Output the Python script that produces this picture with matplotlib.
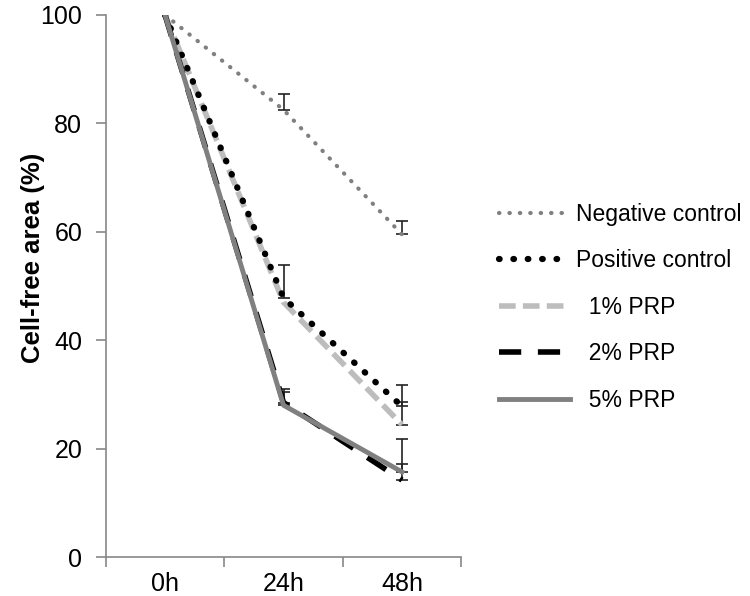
import matplotlib
matplotlib.use("Agg")
import matplotlib.pyplot as plt

# ---- data -----------------------------------------------------------------
time_labels = ["0h", "24h", "48h"]

negative_control = [100, 82.5, 59.5]
negative_err = [0, 3.0, 2.5]

positive_control = [100, 47.8, 27.8]
positive_err = [0, 6.0, 4.0]

prp_1 = [100, 47.0, 24.4]
prp_1_err = [0, 0, 4.2]

prp_2 = [100, 28.5, 14.2]
prp_2_err = [0, 2.0, 3.0]

prp_5 = [100, 28.0, 15.7]
prp_5_err = [0, 3.0, 6.0]

series_names = ["Negative control", "Positive control",
                "  1% PRP", "  2% PRP", "  5% PRP"]

plt.rcParams["font.family"] = ["Liberation Sans", "DejaVu Sans"]

fig = plt.figure(figsize=(7.5, 5.96), dpi=100)
ax = fig.add_axes([0.141, 0.0654, 0.474, 0.9096])

x = list(range(len(time_labels)))

# error bars (upper side only)
err_sets = [(negative_control, negative_err), (positive_control, positive_err),
            (prp_1, prp_1_err), (prp_2, prp_2_err), (prp_5, prp_5_err)]
for vals, errs in err_sets:
    for xi, v, e in zip(x, vals, errs):
        if e > 0:
            ax.errorbar([xi], [v], yerr=[[0], [e]], fmt="none", ecolor="#222222",
                        elinewidth=1.2, capsize=4.5, capthick=1.2, zorder=2)

h_neg, = ax.plot(x, negative_control, color="#808080", linewidth=3,
                 linestyle=(0, (0.1, 2.4)), dash_capstyle="round", zorder=3)
h_1, = ax.plot(x, prp_1, color="#bdbdbd", linewidth=4,
               linestyle=(0, (3, 1.3)), zorder=3)
h_pos, = ax.plot(x, positive_control, color="black", linewidth=4.5,
                 linestyle=(0, (0.1, 2.2)), dash_capstyle="round", zorder=4)
h_2, = ax.plot(x, prp_2, color="black", linewidth=4,
               linestyle=(0, (4, 3)), zorder=3)
h_5, = ax.plot(x, prp_5, color="#808080", linewidth=3.5, zorder=4)

ax.set_xlim(-0.5, 2.5)
ax.set_ylim(0, 100)
ax.set_yticks([0, 20, 40, 60, 80, 100])
ax.set_xticks(x)
ax.set_xticklabels(time_labels)
ax.set_xticks([-0.5, 0.5, 1.5, 2.5], minor=True)
ax.tick_params(axis="x", which="major", length=0, labelsize=18, pad=11)
ax.tick_params(axis="x", which="minor", length=7, direction="out",
               color="#888888", width=1.2)
ax.tick_params(axis="y", length=7, direction="out", color="#888888",
               width=1.2, labelsize=18, pad=10)

for side in ["top", "right"]:
    ax.spines[side].set_visible(False)
for side in ["left", "bottom"]:
    ax.spines[side].set_color("#888888")
    ax.spines[side].set_linewidth(1.2)

ax.set_ylabel("Cell-free area (%)", fontsize=18.5, fontweight="bold")
ax.yaxis.set_label_coords(-0.172, 0.552)

fig.legend([h_neg, h_pos, h_1, h_2, h_5], series_names,
           loc="upper left", bbox_to_anchor=(0.665, 0.66), frameon=False,
           fontsize=16.5, handlelength=3.1, handletextpad=0.25,
           labelspacing=1.03, borderpad=0, borderaxespad=0)

fig.savefig("out.png", dpi=100)
